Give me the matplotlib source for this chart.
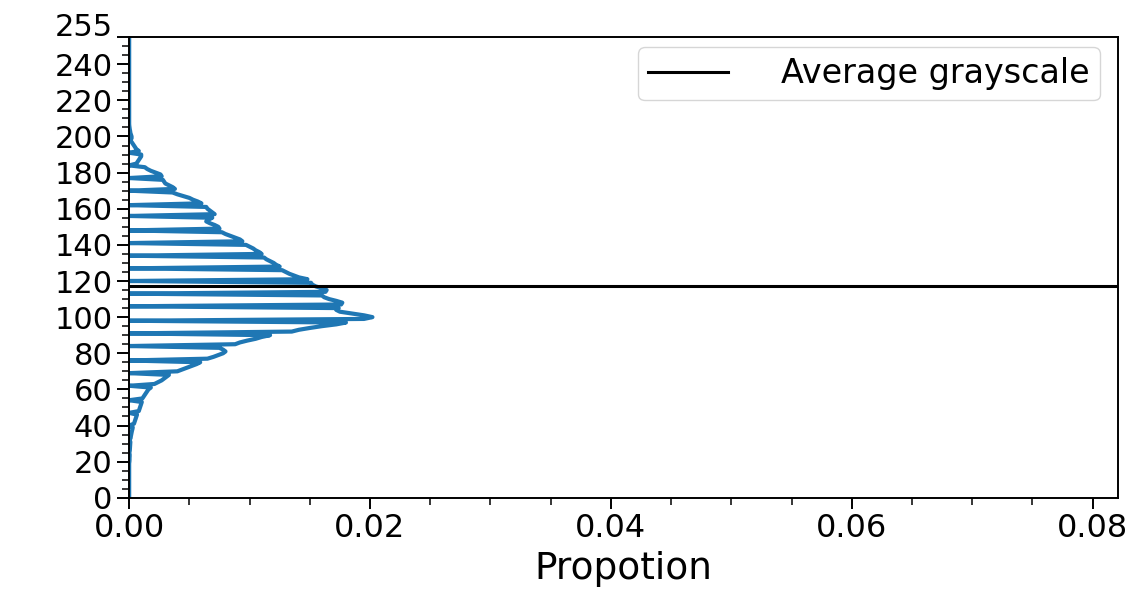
# Histograma de niveles de gris: proporcion por nivel (eje x) frente a nivel (eje y)
import numpy as np
import matplotlib.pyplot as plt
import matplotlib.transforms as mtransforms
from matplotlib.ticker import MultipleLocator, FixedLocator

# Niveles de gris 0..255
gray_levels = list(range(256))

# Proporcion de pixeles por nivel (una fila = 10 niveles)
proportion = [
    0, 0, 0, 0, 0, 0, 0, 0, 0, 0,
    0, 0, 0, 0, 0, 0, 0, 0, 0, 0,
    0.00002, 0.00003, 0.00003, 0.00004, 0.00004, 0, 0.00005, 0.00006, 0.00007, 0.00008,
    0.00009, 0.0001, 0, 0.00012, 0.00014, 0.00017, 0.0002, 0.00023, 0.00027, 0.0003,
    0, 0.0004, 0.00045, 0.0005, 0.00055, 0.0006, 0.00065, 0, 0.0008, 0.00085,
    0.0009, 0.00095, 0.001, 0.00105, 0, 0.0011, 0.0012, 0.0013, 0.0014, 0.0015,
    0.0016, 0.0018, 0, 0.0021, 0.0024, 0.0027, 0.0029, 0.0031, 0.0033, 0,
    0.004, 0.0044, 0.0048, 0.0052, 0.0056, 0.0059, 0, 0.0065, 0.007, 0.0074,
    0.0078, 0.008, 0.0078, 0.0075, 0, 0.0088, 0.0092, 0.0098, 0.0105, 0.011,
    0.0117, 0, 0.0135, 0.0141, 0.015, 0.016, 0.0172, 0.018, 0, 0.0195,
    0.0202, 0.0195, 0.0185, 0.0175, 0.0172, 0.0174, 0, 0.0176, 0.0177, 0.0172,
    0.0166, 0.0162, 0.016, 0, 0.0163, 0.0164, 0.016, 0.0155, 0.0152, 0.0151,
    0, 0.0148, 0.0141, 0.0137, 0.0133, 0.013, 0.0127, 0, 0.0125, 0.0122,
    0.012, 0.0117, 0.0114, 0.0112, 0, 0.011, 0.0108, 0.0105, 0.0103, 0.01,
    0.0097, 0, 0.0094, 0.0092, 0.0088, 0.0084, 0.008, 0.0077, 0, 0.0075,
    0.0074, 0.0071, 0.0067, 0.0064, 0.0066, 0.0069, 0, 0.0071, 0.0069, 0.0067,
    0.0065, 0.0064, 0, 0.006, 0.0057, 0.0053, 0.005, 0.0045, 0.004, 0.0036,
    0, 0.0038, 0.0036, 0.0033, 0.003, 0.0029, 0.0028, 0, 0.0027, 0.0026,
    0.0022, 0.0018, 0.0015, 0.0013, 0, 0.0006, 0.0007, 0.0008, 0.0009, 0.001,
    0.001, 0, 0.0008, 0.0006, 0.0005, 0.0004, 0.0003, 0.0002, 0, 0.0002,
    0.0002, 0.00015, 0.0001, 0.00008, 0.00005, 0.00003, 0.00001, 0, 0, 0,
    0, 0, 0, 0, 0, 0, 0, 0, 0, 0,
    0, 0, 0, 0, 0, 0, 0, 0, 0, 0,
    0, 0, 0, 0, 0, 0, 0, 0, 0, 0,
    0, 0, 0, 0, 0, 0, 0, 0, 0, 0,
    0, 0, 0, 0, 0, 0,
]

# Nivel de gris medio (linea horizontal)
avg_gray = 117

y_ticks = [0, 20, 40, 60, 80, 100, 120, 140, 160, 180, 200, 220, 240, 255]
x_ticks = [0.00, 0.02, 0.04, 0.06, 0.08]

fig = plt.figure(figsize=(11.43, 5.99), dpi=100)
ax = fig.add_axes([0.113, 0.169, 0.865, 0.769])

ax.plot(proportion, gray_levels, color='#1f77b4', linewidth=3)
ax.axhline(avg_gray, color='black', linewidth=2.2, label='Average grayscale')

ax.set_xlim(0, 0.0821)
ax.set_ylim(0, 255)
ax.yaxis.set_major_locator(FixedLocator(y_ticks))
ax.yaxis.set_minor_locator(MultipleLocator(5))
ax.xaxis.set_major_locator(FixedLocator(x_ticks))
ax.xaxis.set_minor_locator(MultipleLocator(0.005))
ax.set_xticklabels([f'{t:.2f}' for t in x_ticks])

ax.tick_params(axis='y', which='major', labelsize=22, length=9, width=1.4, pad=3)
ax.tick_params(axis='x', which='major', labelsize=23, length=8, width=1.4, pad=3)
ax.tick_params(axis='both', which='minor', length=5, width=1.1)
for s in ax.spines.values():
    s.set_linewidth(1.4)

ax.set_xlabel('Propotion', fontsize=27, labelpad=5)

ax.legend(loc='upper right', fontsize=24, handlelength=2.4, borderpad=0.3,
          handletextpad=1.6, borderaxespad=0, fancybox=True, framealpha=0.8,
          bbox_to_anchor=(0.982, 0.978))

# el rotulo 255 va un poco por encima de su marca, como en el original
fig.canvas.draw()
top_label = ax.yaxis.get_major_ticks()[-1].label1
top_label.set_transform(top_label.get_transform() +
                        mtransforms.ScaledTranslation(0, 0.13, fig.dpi_scale_trans))

plt.savefig('out.png', dpi=100)
